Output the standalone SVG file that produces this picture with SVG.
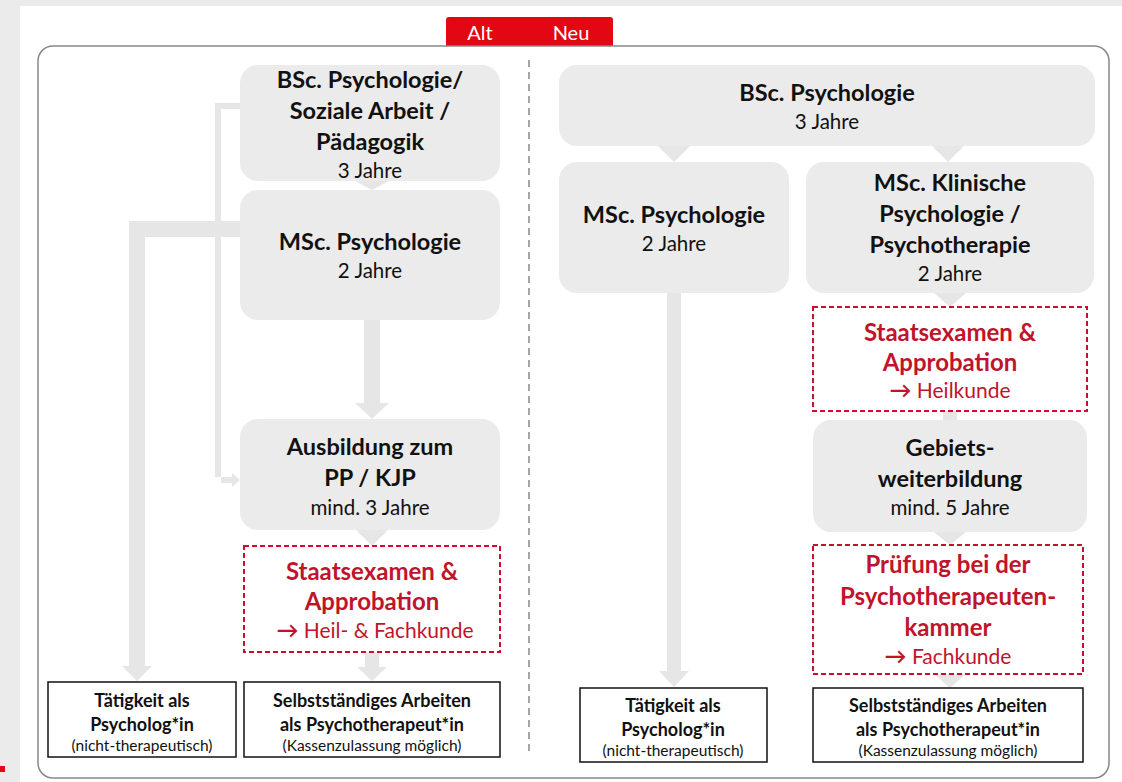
<svg xmlns="http://www.w3.org/2000/svg" width="1122" height="782" viewBox="0 0 1122 782">
<style>
.box{fill:#ebebeb}
.ex{fill:#fff;stroke:#c8102e;stroke-width:2;stroke-dasharray:5 3}
.out{fill:#fff;stroke:#111;stroke-width:1.5}
.arr{fill:#e6e6e6}
text{font-family:Lato,"Liberation Sans",sans-serif;text-anchor:middle}
.h{font-size:23.5px;font-weight:bold;fill:#111}
.s{font-size:20.5px;fill:#111}
.rh{font-size:24px;font-weight:bold;fill:#c0142c}
.rs{font-size:21px;fill:#c0142c}
.ar{font-weight:bold;font-size:22px}
.bh{font-size:18px;font-weight:bold;fill:#111}
.bs{font-size:15.5px;fill:#111}
.tab{font-size:20px;fill:#fff}
</style>
<rect x="0" y="0" width="1122" height="782" fill="#ebebeb"/>
<rect x="20" y="6" width="1102" height="776" fill="#fff"/>
<rect x="0" y="766" width="5" height="6" fill="#e30613"/>
<g id="frame">
<path d="M446 46 V20 Q446 17 449 17 H610 Q613 17 613 20 V46 Z" fill="#e30613"/>
<text class="tab" x="480" y="40">Alt</text>
<text class="tab" x="571" y="40">Neu</text>
<rect x="38" y="46" width="1071" height="732" rx="15" fill="none" stroke="#888" stroke-width="1.5"/>
<line x1="529" y1="60" x2="529" y2="752" stroke="#888" stroke-width="1.5" stroke-dasharray="7 5"/>
</g>
<g id="connectors">
<path class="arr" d="M240 103 H215 V477 H232 V473 L240 480 L232 487 V483 H221 V109 H240 Z"/>
<path class="arr" d="M240 221 H129 V666 H122 L137 681 L152 666 H145 V237 H240 Z"/>
<path class="arr" d="M364 320 H380 V403 H389 L372 419 L355 403 H364 Z"/>
<path class="arr" d="M355 181 H389 L372 190 Z"/>
<path class="arr" d="M356 530 H388 L372 546 Z"/>
<path class="arr" d="M365 652 H379 V667 H387 L372 681 L357 667 H365 Z"/>
<path class="arr" d="M658 146 H690 L674 162 Z"/>
<path class="arr" d="M932 146 H964 L948 162 Z"/>
<path class="arr" d="M667 293 H681 V671 H689 L674 687 L659 671 H667 Z"/>
<path class="arr" d="M934 293 H966 L950 307 Z"/>
<path class="arr" d="M943 411 H957 V420 H943 Z"/>
<path class="arr" d="M934 532 H966 L950 545 Z"/>
<path class="arr" d="M934 674 H966 L950 688 Z"/>
</g>
<g id="alt-bsc">
<rect class="box" x="240" y="65" width="260" height="116" rx="18"/>
<text class="h" x="370" y="88">BSc. Psychologie/</text>
<text class="h" x="370" y="119">Soziale Arbeit /</text>
<text class="h" x="370" y="150">Pädagogik</text>
<text class="s" x="370" y="178">3 Jahre</text>
</g>
<g id="alt-msc">
<rect class="box" x="240" y="190" width="260" height="130" rx="18"/>
<text class="h" x="370" y="250">MSc. Psychologie</text>
<text class="s" x="370" y="278">2 Jahre</text>
</g>
<g id="alt-ausbildung">
<rect class="box" x="240" y="419" width="260" height="111" rx="18"/>
<text class="h" x="370" y="455">Ausbildung zum</text>
<text class="h" x="370" y="486">PP / KJP</text>
<text class="s" x="370" y="515">mind. 3 Jahre</text>
</g>
<g id="alt-staatsexamen">
<rect class="ex" x="244" y="546" width="256" height="106"/>
<text class="rh" x="372" y="580">Staatsexamen &amp;</text>
<text class="rh" x="372" y="610">Approbation</text>
<text class="rs" x="375" y="638"><tspan class="ar">→</tspan> Heil- &amp; Fachkunde</text>
</g>
<g id="alt-taetigkeit">
<rect class="out" x="48" y="682" width="188" height="75"/>
<text class="bh" x="142" y="707">Tätigkeit als</text>
<text class="bh" x="142" y="731">Psycholog*in</text>
<text class="bs" x="142" y="751">(nicht-therapeutisch)</text>
</g>
<g id="alt-selbst">
<rect class="out" x="244" y="682" width="256" height="75"/>
<text class="bh" x="372" y="707">Selbstständiges Arbeiten</text>
<text class="bh" x="372" y="731">als Psychotherapeut*in</text>
<text class="bs" x="372" y="751">(Kassenzulassung möglich)</text>
</g>
<g id="neu-bsc">
<rect class="box" x="559" y="65" width="536" height="81" rx="18"/>
<text class="h" x="827" y="101">BSc. Psychologie</text>
<text class="s" x="827" y="129">3 Jahre</text>
</g>
<g id="neu-msc">
<rect class="box" x="559" y="162" width="230" height="131" rx="18"/>
<text class="h" x="674" y="223">MSc. Psychologie</text>
<text class="s" x="674" y="251">2 Jahre</text>
</g>
<g id="neu-msc-klin">
<rect class="box" x="806" y="162" width="288" height="131" rx="18"/>
<text class="h" x="950" y="191">MSc. Klinische</text>
<text class="h" x="950" y="222">Psychologie /</text>
<text class="h" x="950" y="253">Psychotherapie</text>
<text class="s" x="950" y="281">2 Jahre</text>
</g>
<g id="neu-staatsexamen">
<rect class="ex" x="813" y="307" width="274" height="104"/>
<text class="rh" x="950" y="341">Staatsexamen &amp;</text>
<text class="rh" x="950" y="371">Approbation</text>
<text class="rs" x="950" y="398"><tspan class="ar">→</tspan> Heilkunde</text>
</g>
<g id="neu-gebiet">
<rect class="box" x="813" y="420" width="274" height="112" rx="18"/>
<text class="h" x="950" y="456">Gebiets-</text>
<text class="h" x="950" y="487">weiterbildung</text>
<text class="s" x="950" y="515">mind. 5 Jahre</text>
</g>
<g id="neu-pruefung">
<rect class="ex" x="813" y="545" width="270" height="129"/>
<text class="rh" x="948" y="573">Prüfung bei der</text>
<text class="rh" x="948" y="605">Psychotherapeuten-</text>
<text class="rh" x="948" y="636">kammer</text>
<text class="rs" x="948" y="664"><tspan class="ar">→</tspan> Fachkunde</text>
</g>
<g id="neu-taetigkeit">
<rect class="out" x="580" y="688" width="187" height="74"/>
<text class="bh" x="673" y="712">Tätigkeit als</text>
<text class="bh" x="673" y="736">Psycholog*in</text>
<text class="bs" x="673" y="756">(nicht-therapeutisch)</text>
</g>
<g id="neu-selbst">
<rect class="out" x="813" y="688" width="270" height="74"/>
<text class="bh" x="948" y="712">Selbstständiges Arbeiten</text>
<text class="bh" x="948" y="736">als Psychotherapeut*in</text>
<text class="bs" x="948" y="756">(Kassenzulassung möglich)</text>
</g>
</svg>
